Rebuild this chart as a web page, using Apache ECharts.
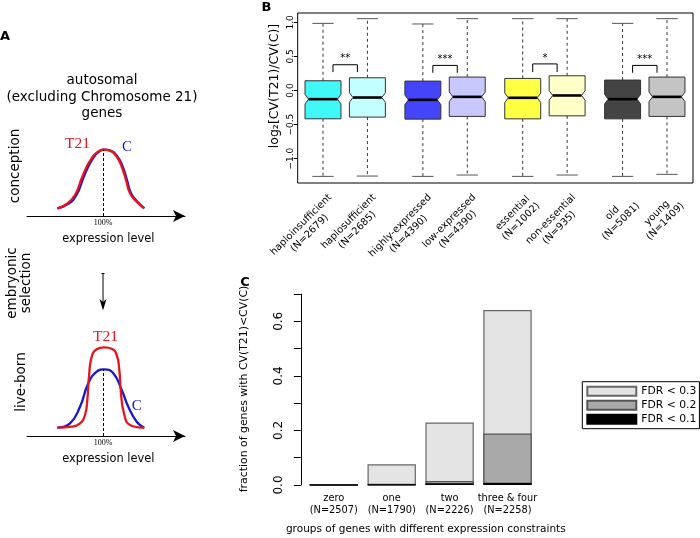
<!DOCTYPE html>
<html><head><meta charset="utf-8">
<script src="https://cdn.jsdelivr.net/npm/echarts@6/dist/echarts.min.js"></script>
<style>html,body{margin:0;padding:0;background:#fff}#c{width:700px;height:538px}</style>
</head><body><div id="c"></div>
<script>
// ===== Panel A: schematic expression distributions =====
const exprTickValues = [100];
const conceptionC   = [[54.3,0.77],[65,1.2],[73.5,2.1],[80.2,3.77],[85.2,4.93],[90,5.77],[94.7,6.33],[100.5,6.63],[107.5,6.53],[114.5,5.93],[119.7,4.93],[124,3.6],[128,2.27],[134.5,1.43],[141.3,0.77]];
const conceptionT21 = [[54.3,0.77],[63.7,1.2],[72,2.1],[78.7,3.77],[83.7,4.93],[88.7,5.77],[93.7,6.33],[100.3,6.63],[107,6.53],[113.7,5.93],[118.7,4.93],[123,3.6],[127,2.27],[133.7,1.43],[141.3,0.77]];
const liveC   = [[54.3,0.83],[67,1.27],[77,2.93],[85.3,5.27],[93.7,6.43],[101.3,6.67],[110.3,6.27],[118.7,4.6],[125.3,2.93],[133.7,1.43],[141.3,0.83]];
const liveT21 = [[54.3,0.83],[68.7,0.93],[77,1.27],[82,2.1],[84.3,3.6],[86,5.93],[88.7,7.93],[93.7,8.67],[101.3,8.87],[108.7,8.73],[113.7,8.1],[116.3,6.6],[118,4.27],[121,2.27],[127,1.1],[141.3,0.83]];
const conceptionPeak = 6.63;
const livePeak = 6.67;

// ===== Panel B: boxplots of log2[CV(T21)/CV(C)] =====
const groupNames = ['haploinsufficient','haplosufficient','highly-expressed','low-expressed','essential','non-essential','old','young'];
const groupN     = [2679, 2685, 4390, 4390, 1002, 935, 5081, 1409];
const groupPos   = [1, 2, 3.25, 4.25, 5.5, 6.5, 7.75, 8.75];
const whiskerLow  = [-1.26, -1.255, -1.26, -1.24, -1.26, -1.24, -1.26, -1.23];
const quart1      = [-0.415, -0.39, -0.42, -0.38, -0.416, -0.372, -0.416, -0.38];
const medians     = [-0.127, -0.103, -0.137, -0.093, -0.107, -0.073, -0.127, -0.093];
const quart3      = [0.143, 0.187, 0.138, 0.197, 0.177, 0.216, 0.153, 0.197];
const whiskerHigh = [0.985, 1.054, 0.976, 1.054, 1.054, 1.054, 0.985, 1.054];
const notchHalf   = [0.07, 0.07, 0.07, 0.07, 0.07, 0.07, 0.07, 0.07];
const boxColors   = ['#40F8F8','#C4FFFF','#4444FA','#C8C8FF','#FFFF44','#FFFFC8','#444444','#C4C4C4'];
const yTicksB     = [-1, -0.5, 0, 0.5, 1];
const sigPairs    = [[0,1],[2,3],[4,5],[6,7]];
const sigLabels   = ['**','***','*','***'];
const sigTop      = [0.378, 0.368, 0.39, 0.368];
const sigBottom   = [0.27, 0.26, 0.27, 0.26];

// ===== Panel C: fraction of genes with CV(T21)<CV(C) =====
const constraintGroups = ['zero','one','two','three & four'];
const constraintN      = [2507, 1790, 2226, 2258];
const fdr03 = [0.002, 0.0757, 0.229, 0.641];
const fdr02 = [0, 0.002, 0.0146, 0.189];
const fdr01 = [0, 0.001, 0.006, 0.008];
const fdrNames = ['FDR < 0.3','FDR < 0.2','FDR < 0.1'];
const fdrColors = ['#E4E4E4','#A9A9A9','#000000'];

const FONT = 'DejaVu Sans';
const SERIF = 'Liberation Serif';
const RED = '#E8141E', BLUE = '#1818C8';

const chart = echarts.init(document.getElementById('c'), null, {renderer: 'canvas'});

function boxRender(params, api) {
  const x = api.value(0), lo = api.value(1), a = api.value(2), m = api.value(3),
        b = api.value(4), hi = api.value(5), n = api.value(6);
  const hw = 0.405, inset = 0.08, st = 0.24;
  const P = (xx, yy) => api.coord([xx, yy]);
  const col = boxColors[params.dataIndex];
  const dash = {stroke: '#222', lineWidth: 0.9, lineDash: [3, 3]};
  const solid = {stroke: '#555', lineWidth: 1};
  const pts = [P(x-hw,b),P(x+hw,b),P(x+hw,m+n),P(x+hw-inset,m),P(x+hw,m-n),P(x+hw,a),
               P(x-hw,a),P(x-hw,m-n),P(x-hw+inset,m),P(x-hw,m+n)];
  const l = (p1, p2, s) => ({type: 'line', shape: {x1: p1[0], y1: p1[1], x2: p2[0], y2: p2[1]}, style: s});
  return {type: 'group', children: [
    l(P(x, b), P(x, hi), dash),
    l(P(x, a), P(x, lo), dash),
    l(P(x-st, hi), P(x+st, hi), solid),
    l(P(x-st, lo), P(x+st, lo), solid),
    {type: 'polygon', shape: {points: pts}, style: {fill: col, stroke: '#333', lineWidth: 1}},
    l(P(x-hw+inset, m), P(x+hw-inset, m), {stroke: '#000', lineWidth: 2.6})
  ]};
}

function sigRender(params, api) {
  const x1 = api.value(0) + 0.225, x2 = api.value(1) - 0.225, top = api.value(2), bot = api.value(3);
  const P = (xx, yy) => api.coord([xx, yy]);
  const a = P(x1, bot), b = P(x1, top), c = P(x2, top), d = P(x2, bot);
  const mid = P((api.value(0) + api.value(1)) / 2, top);
  return {type: 'group', children: [
    {type: 'polyline', shape: {points: [a, b, c, d]}, style: {stroke: '#000', lineWidth: 1, fill: null}},
    {type: 'text', x: mid[0], y: mid[1] - 1, style: {text: sigLabels[params.dataIndex], font: '10px ' + FONT, fill: '#000', align: 'center', verticalAlign: 'bottom'}}
  ]};
}

function aXAxis(gi) {
  return {type: 'value', gridIndex: gi, min: 24, max: 182,
    axisLine: {show: true, symbol: ['none', 'arrow'], symbolSize: [9, 12], lineStyle: {color: '#000', width: 1}},
    axisTick: {show: false}, splitLine: {show: false},
    axisLabel: {customValues: exprTickValues, formatter: v => v + '%', fontFamily: SERIF, fontSize: 8, color: '#000', margin: 3}};
}
function aYAxis(gi) {
  return {type: 'value', gridIndex: gi, min: 0, max: 10, show: false};
}
function dashed(peak) {
  return {silent: true, symbol: 'none', label: {show: false},
    lineStyle: {color: '#000', type: [3, 2], width: 1},
    data: [[{coord: [100, 0]}, {coord: [100, peak]}]]};
}

const fmtB = v => {
  const i = groupPos.findIndex(p => Math.abs(p - v) < 1e-6);
  if (i < 0) return '';
  return '{c|' + groupNames[i] + '}\n{c|(N=' + groupN[i] + ')}';
};
const minus = v => (v < 0 ? '\u2212' : '') + Math.abs(v).toFixed(1);

const txt = (x, y, text, font, opt) => Object.assign({type: 'text', x: x, y: y,
  style: Object.assign({text: text, font: font, fill: '#000', align: 'center', verticalAlign: 'middle'}, (opt && opt.style) || {})},
  (opt && opt.rot) ? {rotation: opt.rot} : {});

const option = {
  animation: false,
  backgroundColor: '#fff',
  textStyle: {fontFamily: FONT},
  grid: [
    {left: 27, top: 116, width: 158, height: 100},
    {left: 27, top: 336, width: 158, height: 100},
    {left: 297.7, top: 13, width: 395.3, height: 170, show: true, borderColor: '#000', borderWidth: 1, backgroundColor: '#fff'},
    {left: 304.85, top: 294, width: 231.6, height: 191}
  ],
  xAxis: [
    aXAxis(0), aXAxis(1),
    {type: 'value', gridIndex: 2, min: 0.43, max: 9.336, splitLine: {show: false},
      axisLine: {show: false},
      axisTick: {show: true, customValues: groupPos, length: 7, lineStyle: {color: '#000'}},
      axisLabel: {customValues: groupPos, formatter: fmtB, rotate: 45, margin: 5.8, padding: [32, 0, 0, 0], color: '#000',
        rich: {c: {align: 'center', fontSize: 9.9, fontFamily: FONT, lineHeight: 12, color: '#000'}}}},
    {type: 'category', gridIndex: 3, data: constraintGroups,
      axisLine: {show: false}, axisTick: {show: false},
      axisLabel: {formatter: (v, i) => v + '\n(N=' + constraintN[i] + ')', fontSize: 9.8, lineHeight: 12.6, margin: 7, color: '#000', interval: 0}}
  ],
  yAxis: [
    aYAxis(0), aYAxis(1),
    {type: 'value', gridIndex: 2, min: -1.357, max: 1.137, splitLine: {show: false},
      axisLine: {show: false},
      axisTick: {show: true, customValues: yTicksB, length: 4, lineStyle: {color: '#000'}},
      axisLabel: {customValues: yTicksB, formatter: minus, rotate: 90, fontSize: 9, margin: 3, color: '#000'}},
    {type: 'value', gridIndex: 3, min: 0, max: 0.7, interval: 0.1, offset: 4, splitLine: {show: false},
      axisLine: {show: true, lineStyle: {color: '#000', width: 1}},
      axisTick: {show: true, length: 7, lineStyle: {color: '#000'}},
      axisLabel: {formatter: v => (Math.round(v * 10) % 2 === 1 ? '' : v.toFixed(1)), rotate: 90, fontSize: 12, margin: 16, color: '#000'}}
  ],
  legend: {orient: 'vertical', left: 582.3, top: 381.7, data: fdrNames, icon: 'rect', itemWidth: 49, itemHeight: 9, itemGap: 3,
    padding: [4, 3, 4, 4], borderColor: '#000', borderWidth: 1, backgroundColor: '#fff',
    textStyle: {fontSize: 10.8, color: '#000', fontFamily: FONT}, selectedMode: false},
  series: [
    {type: 'line', xAxisIndex: 0, yAxisIndex: 0, data: conceptionC, smooth: 0.5, showSymbol: false, lineStyle: {color: BLUE, width: 2.3}, silent: true},
    {type: 'line', xAxisIndex: 0, yAxisIndex: 0, data: conceptionT21, smooth: 0.5, showSymbol: false, lineStyle: {color: RED, width: 2.3}, silent: true, markLine: dashed(conceptionPeak)},
    {type: 'line', xAxisIndex: 1, yAxisIndex: 1, data: liveC, smooth: 0.5, showSymbol: false, lineStyle: {color: BLUE, width: 2.3}, silent: true, markLine: dashed(livePeak)},
    {type: 'line', xAxisIndex: 1, yAxisIndex: 1, data: liveT21, smooth: 0.5, showSymbol: false, lineStyle: {color: RED, width: 2.3}, silent: true},
    {type: 'custom', xAxisIndex: 2, yAxisIndex: 2, renderItem: boxRender, clip: false,
      data: groupPos.map((p, i) => [p, whiskerLow[i], quart1[i], medians[i], quart3[i], whiskerHigh[i], notchHalf[i]])},
    {type: 'custom', xAxisIndex: 2, yAxisIndex: 2, renderItem: sigRender, clip: false,
      data: sigPairs.map((p, i) => [groupPos[p[0]], groupPos[p[1]], sigTop[i], sigBottom[i]])},
    {type: 'bar', name: fdrNames[0], xAxisIndex: 3, yAxisIndex: 3, data: fdr03, barWidth: 48.4, barGap: '-100%',
      itemStyle: {color: fdrColors[0], borderColor: '#666', borderWidth: 1.2}},
    {type: 'bar', name: fdrNames[1], xAxisIndex: 3, yAxisIndex: 3, data: fdr02, barWidth: 48.4, barGap: '-100%',
      itemStyle: {color: fdrColors[1], borderColor: '#555', borderWidth: 1.2}},
    {type: 'bar', name: fdrNames[2], xAxisIndex: 3, yAxisIndex: 3, data: fdr01, barWidth: 48.4, barGap: '-100%',
      itemStyle: {color: fdrColors[2], borderColor: '#000', borderWidth: 1}}
  ],
  graphic: [
    txt(5, 37, 'A', 'bold 13px ' + FONT),
    txt(266.5, 8, 'B', 'bold 13px ' + FONT),
    txt(245, 283, 'C', 'bold 13px ' + FONT),
    {type: 'text', x: 102, y: 97, style: {text: 'autosomal\n(excluding Chromosome 21)\ngenes', font: '13.5px ' + FONT, lineHeight: 16.7, fill: '#000', align: 'center', verticalAlign: 'middle'}},
    txt(15.5, 166, 'conception', '13.5px ' + FONT, {rot: Math.PI / 2}),
    {type: 'text', x: 19.5, y: 283, rotation: Math.PI / 2, style: {text: 'embryonic\nselection', font: '13.5px ' + FONT, lineHeight: 14, fill: '#000', align: 'center', verticalAlign: 'middle'}},
    txt(21, 382, 'live-born', '13.5px ' + FONT, {rot: Math.PI / 2}),
    txt(108.3, 239, 'expression level', '11.4px ' + FONT),
    txt(108.3, 459.5, 'expression level', '11.4px ' + FONT),
    txt(77.5, 144, 'T21', '15.5px ' + SERIF, {style: {fill: RED}}),
    txt(127, 147, 'C', '15px ' + SERIF, {style: {fill: BLUE}}),
    txt(105.5, 336.7, 'T21', '15.5px ' + SERIF, {style: {fill: RED}}),
    txt(136.7, 405.8, 'C', '15px ' + SERIF, {style: {fill: BLUE}}),
    {type: 'line', shape: {x1: 103, y1: 273.5, x2: 103, y2: 305}, style: {stroke: '#000', lineWidth: 1}},
    {type: 'line', shape: {x1: 101.5, y1: 273.5, x2: 104.5, y2: 273.5}, style: {stroke: '#000', lineWidth: 1}},
    {type: 'polygon', shape: {points: [[103, 310.5], [99.5, 299], [103, 302], [106.5, 299]]}, style: {fill: '#000'}},
    txt(275, 86, 'log\u2082[CV(T21)/CV(C)]', '12.5px ' + FONT, {rot: Math.PI / 2}),
    txt(244.5, 389, 'fraction of genes with CV(T21)<CV(C)', '10.9px ' + FONT, {rot: Math.PI / 2}),
    txt(425.8, 529, 'groups of genes with different expression constraints', '10.5px ' + FONT)
  ]
};
chart.setOption(option);
</script></body></html>
